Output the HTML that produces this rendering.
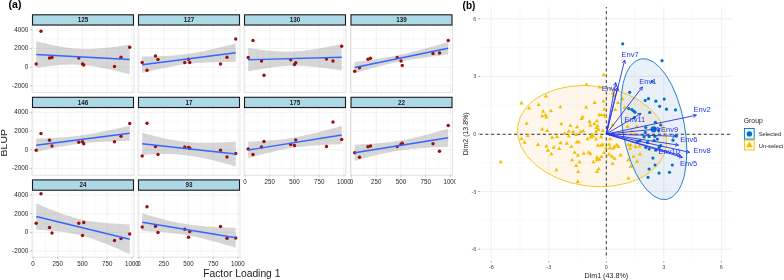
<!DOCTYPE html>
<html><head><meta charset="utf-8"><style>
html,body{margin:0;padding:0;background:#fff;}
svg{display:block;will-change:transform;font-family:"Liberation Sans",sans-serif;}
</style></head><body>
<svg width="784" height="280" viewBox="0 0 784 280">
<rect width="784" height="280" fill="#fff"/>
<defs><clipPath id="ca"><rect x="0" y="0" width="455.6" height="280"/></clipPath></defs>
<g clip-path="url(#ca)">
<rect x="32" y="25.5" width="102" height="66.80" fill="#fff"/>
<line x1="45.40" y1="25.5" x2="45.40" y2="92.3" stroke="#f3f3f3" stroke-width="0.4"/>
<line x1="70.10" y1="25.5" x2="70.10" y2="92.3" stroke="#f3f3f3" stroke-width="0.4"/>
<line x1="94.80" y1="25.5" x2="94.80" y2="92.3" stroke="#f3f3f3" stroke-width="0.4"/>
<line x1="119.50" y1="25.5" x2="119.50" y2="92.3" stroke="#f3f3f3" stroke-width="0.4"/>
<line x1="32" y1="39.15" x2="134" y2="39.15" stroke="#f3f3f3" stroke-width="0.4"/>
<line x1="32" y1="57.85" x2="134" y2="57.85" stroke="#f3f3f3" stroke-width="0.4"/>
<line x1="32" y1="76.55" x2="134" y2="76.55" stroke="#f3f3f3" stroke-width="0.4"/>
<line x1="33.05" y1="25.5" x2="33.05" y2="92.3" stroke="#e9e9e9" stroke-width="0.6"/>
<line x1="57.75" y1="25.5" x2="57.75" y2="92.3" stroke="#e9e9e9" stroke-width="0.6"/>
<line x1="82.45" y1="25.5" x2="82.45" y2="92.3" stroke="#e9e9e9" stroke-width="0.6"/>
<line x1="107.15" y1="25.5" x2="107.15" y2="92.3" stroke="#e9e9e9" stroke-width="0.6"/>
<line x1="131.85" y1="25.5" x2="131.85" y2="92.3" stroke="#e9e9e9" stroke-width="0.6"/>
<line x1="32" y1="29.80" x2="134" y2="29.80" stroke="#e9e9e9" stroke-width="0.6"/>
<line x1="32" y1="48.50" x2="134" y2="48.50" stroke="#e9e9e9" stroke-width="0.6"/>
<line x1="32" y1="67.20" x2="134" y2="67.20" stroke="#e9e9e9" stroke-width="0.6"/>
<line x1="32" y1="85.90" x2="134" y2="85.90" stroke="#e9e9e9" stroke-width="0.6"/>
<polygon points="36.20,41.28 38.60,41.87 40.99,42.46 43.39,43.03 45.79,43.59 48.19,44.13 50.58,44.66 52.98,45.16 55.38,45.65 57.78,46.11 60.17,46.55 62.57,46.96 64.97,47.34 67.37,47.68 69.76,47.99 72.16,48.26 74.56,48.49 76.96,48.67 79.35,48.81 81.75,48.91 84.15,48.97 86.55,48.98 88.94,48.95 91.34,48.89 93.74,48.78 96.14,48.65 98.53,48.49 100.93,48.29 103.33,48.08 105.73,47.84 108.12,47.58 110.52,47.30 112.92,47.01 115.32,46.70 117.71,46.39 120.11,46.05 122.51,45.71 124.91,45.36 127.30,45.00 129.70,44.64 129.70,74.36 127.30,73.74 124.91,73.13 122.51,72.52 120.11,71.92 117.71,71.33 115.32,70.76 112.92,70.19 110.52,69.64 108.12,69.11 105.73,68.60 103.33,68.10 100.93,67.63 98.53,67.18 96.14,66.76 93.74,66.37 91.34,66.01 88.94,65.69 86.55,65.41 84.15,65.16 81.75,64.96 79.35,64.80 76.96,64.69 74.56,64.62 72.16,64.59 69.76,64.60 67.37,64.65 64.97,64.74 62.57,64.86 60.17,65.01 57.78,65.19 55.38,65.40 52.98,65.63 50.58,65.88 48.19,66.15 45.79,66.44 43.39,66.74 40.99,67.06 38.60,67.38 36.20,67.72" fill="#999999" fill-opacity="0.4"/>
<circle cx="36.20" cy="64.00" r="1.7" fill="#9a0f0f"/>
<circle cx="41.00" cy="31.25" r="1.7" fill="#9a0f0f"/>
<circle cx="49.50" cy="58.00" r="1.7" fill="#9a0f0f"/>
<circle cx="52.00" cy="57.50" r="1.7" fill="#9a0f0f"/>
<circle cx="78.75" cy="58.00" r="1.7" fill="#9a0f0f"/>
<circle cx="82.50" cy="64.00" r="1.7" fill="#9a0f0f"/>
<circle cx="83.75" cy="65.00" r="1.7" fill="#9a0f0f"/>
<circle cx="114.50" cy="66.50" r="1.7" fill="#9a0f0f"/>
<circle cx="121.00" cy="57.25" r="1.7" fill="#9a0f0f"/>
<circle cx="129.70" cy="47.25" r="1.7" fill="#9a0f0f"/>
<line x1="36.20" y1="54.5" x2="129.70" y2="59.5" stroke="#3366ff" stroke-width="1.3"/>
<rect x="32" y="25.5" width="102" height="66.80" fill="none" stroke="#d6d6d6" stroke-width="0.7"/>
<rect x="32.5" y="14.8" width="101" height="10.20" fill="#add8e6" stroke="#1a1a1a" stroke-width="1.1"/>
<text x="83.00" y="22.10" font-size="6.3" font-weight="bold" fill="#1a1a1a" text-anchor="middle">125</text>
<line x1="30" y1="29.80" x2="32" y2="29.80" stroke="#999" stroke-width="0.5"/>
<text transform="translate(28.40,31.60) scale(0.91,1)" font-size="7" fill="#1e1e1e" text-anchor="end">4000</text>
<line x1="30" y1="48.50" x2="32" y2="48.50" stroke="#999" stroke-width="0.5"/>
<text transform="translate(28.40,50.30) scale(0.91,1)" font-size="7" fill="#1e1e1e" text-anchor="end">2000</text>
<line x1="30" y1="67.20" x2="32" y2="67.20" stroke="#999" stroke-width="0.5"/>
<text transform="translate(28.40,69.00) scale(0.91,1)" font-size="7" fill="#1e1e1e" text-anchor="end">0</text>
<line x1="30" y1="85.90" x2="32" y2="85.90" stroke="#999" stroke-width="0.5"/>
<text transform="translate(28.40,87.70) scale(0.91,1)" font-size="7" fill="#1e1e1e" text-anchor="end">-2000</text>
<rect x="138" y="25.5" width="102" height="66.80" fill="#fff"/>
<line x1="151.40" y1="25.5" x2="151.40" y2="92.3" stroke="#f3f3f3" stroke-width="0.4"/>
<line x1="176.10" y1="25.5" x2="176.10" y2="92.3" stroke="#f3f3f3" stroke-width="0.4"/>
<line x1="200.80" y1="25.5" x2="200.80" y2="92.3" stroke="#f3f3f3" stroke-width="0.4"/>
<line x1="225.50" y1="25.5" x2="225.50" y2="92.3" stroke="#f3f3f3" stroke-width="0.4"/>
<line x1="138" y1="39.15" x2="240" y2="39.15" stroke="#f3f3f3" stroke-width="0.4"/>
<line x1="138" y1="57.85" x2="240" y2="57.85" stroke="#f3f3f3" stroke-width="0.4"/>
<line x1="138" y1="76.55" x2="240" y2="76.55" stroke="#f3f3f3" stroke-width="0.4"/>
<line x1="139.05" y1="25.5" x2="139.05" y2="92.3" stroke="#e9e9e9" stroke-width="0.6"/>
<line x1="163.75" y1="25.5" x2="163.75" y2="92.3" stroke="#e9e9e9" stroke-width="0.6"/>
<line x1="188.45" y1="25.5" x2="188.45" y2="92.3" stroke="#e9e9e9" stroke-width="0.6"/>
<line x1="213.15" y1="25.5" x2="213.15" y2="92.3" stroke="#e9e9e9" stroke-width="0.6"/>
<line x1="237.85" y1="25.5" x2="237.85" y2="92.3" stroke="#e9e9e9" stroke-width="0.6"/>
<line x1="138" y1="29.80" x2="240" y2="29.80" stroke="#e9e9e9" stroke-width="0.6"/>
<line x1="138" y1="48.50" x2="240" y2="48.50" stroke="#e9e9e9" stroke-width="0.6"/>
<line x1="138" y1="67.20" x2="240" y2="67.20" stroke="#e9e9e9" stroke-width="0.6"/>
<line x1="138" y1="85.90" x2="240" y2="85.90" stroke="#e9e9e9" stroke-width="0.6"/>
<polygon points="142.20,56.50 144.60,56.48 146.99,56.46 149.39,56.43 151.79,56.39 154.19,56.34 156.58,56.28 158.98,56.21 161.38,56.12 163.78,56.03 166.17,55.91 168.57,55.78 170.97,55.63 173.37,55.45 175.76,55.26 178.16,55.04 180.56,54.79 182.96,54.52 185.35,54.22 187.75,53.89 190.15,53.54 192.55,53.16 194.94,52.76 197.34,52.33 199.74,51.88 202.14,51.41 204.53,50.92 206.93,50.41 209.33,49.89 211.73,49.35 214.12,48.80 216.52,48.24 218.92,47.67 221.32,47.09 223.71,46.50 226.11,45.91 228.51,45.31 230.91,44.70 233.30,44.09 235.70,43.47 235.70,62.03 233.30,62.03 230.91,62.03 228.51,62.04 226.11,62.05 223.71,62.07 221.32,62.10 218.92,62.14 216.52,62.18 214.12,62.24 211.73,62.31 209.33,62.38 206.93,62.48 204.53,62.58 202.14,62.71 199.74,62.85 197.34,63.02 194.94,63.21 192.55,63.42 190.15,63.65 187.75,63.91 185.35,64.20 182.96,64.52 180.56,64.86 178.16,65.23 175.76,65.63 173.37,66.05 170.97,66.49 168.57,66.95 166.17,67.44 163.78,67.94 161.38,68.45 158.98,68.98 156.58,69.53 154.19,70.08 151.79,70.65 149.39,71.23 146.99,71.81 144.60,72.40 142.20,73.00" fill="#999999" fill-opacity="0.4"/>
<circle cx="142.20" cy="62.50" r="1.7" fill="#9a0f0f"/>
<circle cx="147.00" cy="70.25" r="1.7" fill="#9a0f0f"/>
<circle cx="155.50" cy="56.00" r="1.7" fill="#9a0f0f"/>
<circle cx="158.00" cy="59.50" r="1.7" fill="#9a0f0f"/>
<circle cx="184.75" cy="62.50" r="1.7" fill="#9a0f0f"/>
<circle cx="188.50" cy="59.25" r="1.7" fill="#9a0f0f"/>
<circle cx="189.75" cy="62.50" r="1.7" fill="#9a0f0f"/>
<circle cx="220.50" cy="64.00" r="1.7" fill="#9a0f0f"/>
<circle cx="227.00" cy="57.25" r="1.7" fill="#9a0f0f"/>
<circle cx="235.70" cy="39.00" r="1.7" fill="#9a0f0f"/>
<line x1="142.20" y1="64.75" x2="235.70" y2="52.75" stroke="#3366ff" stroke-width="1.3"/>
<rect x="138" y="25.5" width="102" height="66.80" fill="none" stroke="#d6d6d6" stroke-width="0.7"/>
<rect x="138.5" y="14.8" width="101" height="10.20" fill="#add8e6" stroke="#1a1a1a" stroke-width="1.1"/>
<text x="189.00" y="22.10" font-size="6.3" font-weight="bold" fill="#1a1a1a" text-anchor="middle">127</text>
<rect x="244" y="25.5" width="102" height="66.80" fill="#fff"/>
<line x1="257.40" y1="25.5" x2="257.40" y2="92.3" stroke="#f3f3f3" stroke-width="0.4"/>
<line x1="282.10" y1="25.5" x2="282.10" y2="92.3" stroke="#f3f3f3" stroke-width="0.4"/>
<line x1="306.80" y1="25.5" x2="306.80" y2="92.3" stroke="#f3f3f3" stroke-width="0.4"/>
<line x1="331.50" y1="25.5" x2="331.50" y2="92.3" stroke="#f3f3f3" stroke-width="0.4"/>
<line x1="244" y1="39.15" x2="346" y2="39.15" stroke="#f3f3f3" stroke-width="0.4"/>
<line x1="244" y1="57.85" x2="346" y2="57.85" stroke="#f3f3f3" stroke-width="0.4"/>
<line x1="244" y1="76.55" x2="346" y2="76.55" stroke="#f3f3f3" stroke-width="0.4"/>
<line x1="245.05" y1="25.5" x2="245.05" y2="92.3" stroke="#e9e9e9" stroke-width="0.6"/>
<line x1="269.75" y1="25.5" x2="269.75" y2="92.3" stroke="#e9e9e9" stroke-width="0.6"/>
<line x1="294.45" y1="25.5" x2="294.45" y2="92.3" stroke="#e9e9e9" stroke-width="0.6"/>
<line x1="319.15" y1="25.5" x2="319.15" y2="92.3" stroke="#e9e9e9" stroke-width="0.6"/>
<line x1="343.85" y1="25.5" x2="343.85" y2="92.3" stroke="#e9e9e9" stroke-width="0.6"/>
<line x1="244" y1="29.80" x2="346" y2="29.80" stroke="#e9e9e9" stroke-width="0.6"/>
<line x1="244" y1="48.50" x2="346" y2="48.50" stroke="#e9e9e9" stroke-width="0.6"/>
<line x1="244" y1="67.20" x2="346" y2="67.20" stroke="#e9e9e9" stroke-width="0.6"/>
<line x1="244" y1="85.90" x2="346" y2="85.90" stroke="#e9e9e9" stroke-width="0.6"/>
<polygon points="248.20,47.98 250.60,48.33 252.99,48.67 255.39,49.00 257.79,49.32 260.19,49.63 262.58,49.92 264.98,50.19 267.38,50.45 269.78,50.68 272.17,50.89 274.57,51.08 276.97,51.24 279.37,51.36 281.76,51.46 284.16,51.52 286.56,51.55 288.96,51.53 291.35,51.48 293.75,51.39 296.15,51.26 298.55,51.09 300.94,50.89 303.34,50.65 305.74,50.39 308.14,50.09 310.53,49.76 312.93,49.41 315.33,49.04 317.73,48.65 320.12,48.24 322.52,47.82 324.92,47.38 327.32,46.93 329.71,46.47 332.11,45.99 334.51,45.51 336.91,45.02 339.30,44.52 341.70,44.02 341.70,70.48 339.30,70.10 336.91,69.73 334.51,69.37 332.11,69.02 329.71,68.67 327.32,68.34 324.92,68.02 322.52,67.71 320.12,67.41 317.73,67.13 315.33,66.87 312.93,66.62 310.53,66.40 308.14,66.21 305.74,66.04 303.34,65.90 300.94,65.79 298.55,65.72 296.15,65.68 293.75,65.68 291.35,65.71 288.96,65.79 286.56,65.90 284.16,66.06 281.76,66.24 279.37,66.47 276.97,66.72 274.57,67.01 272.17,67.33 269.78,67.66 267.38,68.03 264.98,68.41 262.58,68.81 260.19,69.23 257.79,69.66 255.39,70.11 252.99,70.57 250.60,71.04 248.20,71.52" fill="#999999" fill-opacity="0.4"/>
<circle cx="248.20" cy="57.50" r="1.7" fill="#9a0f0f"/>
<circle cx="253.00" cy="40.50" r="1.7" fill="#9a0f0f"/>
<circle cx="261.50" cy="61.00" r="1.7" fill="#9a0f0f"/>
<circle cx="264.00" cy="75.25" r="1.7" fill="#9a0f0f"/>
<circle cx="290.75" cy="59.75" r="1.7" fill="#9a0f0f"/>
<circle cx="294.50" cy="64.50" r="1.7" fill="#9a0f0f"/>
<circle cx="295.75" cy="62.75" r="1.7" fill="#9a0f0f"/>
<circle cx="326.50" cy="59.00" r="1.7" fill="#9a0f0f"/>
<circle cx="333.00" cy="61.00" r="1.7" fill="#9a0f0f"/>
<circle cx="341.70" cy="46.25" r="1.7" fill="#9a0f0f"/>
<line x1="248.20" y1="59.75" x2="341.70" y2="57.25" stroke="#3366ff" stroke-width="1.3"/>
<rect x="244" y="25.5" width="102" height="66.80" fill="none" stroke="#d6d6d6" stroke-width="0.7"/>
<rect x="244.5" y="14.8" width="101" height="10.20" fill="#add8e6" stroke="#1a1a1a" stroke-width="1.1"/>
<text x="295.00" y="22.10" font-size="6.3" font-weight="bold" fill="#1a1a1a" text-anchor="middle">130</text>
<rect x="350.5" y="25.5" width="102" height="66.80" fill="#fff"/>
<line x1="363.90" y1="25.5" x2="363.90" y2="92.3" stroke="#f3f3f3" stroke-width="0.4"/>
<line x1="388.60" y1="25.5" x2="388.60" y2="92.3" stroke="#f3f3f3" stroke-width="0.4"/>
<line x1="413.30" y1="25.5" x2="413.30" y2="92.3" stroke="#f3f3f3" stroke-width="0.4"/>
<line x1="438.00" y1="25.5" x2="438.00" y2="92.3" stroke="#f3f3f3" stroke-width="0.4"/>
<line x1="350.5" y1="39.15" x2="452.5" y2="39.15" stroke="#f3f3f3" stroke-width="0.4"/>
<line x1="350.5" y1="57.85" x2="452.5" y2="57.85" stroke="#f3f3f3" stroke-width="0.4"/>
<line x1="350.5" y1="76.55" x2="452.5" y2="76.55" stroke="#f3f3f3" stroke-width="0.4"/>
<line x1="351.55" y1="25.5" x2="351.55" y2="92.3" stroke="#e9e9e9" stroke-width="0.6"/>
<line x1="376.25" y1="25.5" x2="376.25" y2="92.3" stroke="#e9e9e9" stroke-width="0.6"/>
<line x1="400.95" y1="25.5" x2="400.95" y2="92.3" stroke="#e9e9e9" stroke-width="0.6"/>
<line x1="425.65" y1="25.5" x2="425.65" y2="92.3" stroke="#e9e9e9" stroke-width="0.6"/>
<line x1="450.35" y1="25.5" x2="450.35" y2="92.3" stroke="#e9e9e9" stroke-width="0.6"/>
<line x1="350.5" y1="29.80" x2="452.5" y2="29.80" stroke="#e9e9e9" stroke-width="0.6"/>
<line x1="350.5" y1="48.50" x2="452.5" y2="48.50" stroke="#e9e9e9" stroke-width="0.6"/>
<line x1="350.5" y1="67.20" x2="452.5" y2="67.20" stroke="#e9e9e9" stroke-width="0.6"/>
<line x1="350.5" y1="85.90" x2="452.5" y2="85.90" stroke="#e9e9e9" stroke-width="0.6"/>
<polygon points="354.70,61.92 357.10,61.62 359.49,61.32 361.89,61.02 364.29,60.70 366.69,60.38 369.08,60.06 371.48,59.73 373.88,59.38 376.28,59.03 378.67,58.67 381.07,58.29 383.47,57.91 385.87,57.50 388.26,57.08 390.66,56.65 393.06,56.20 395.46,55.73 397.85,55.24 400.25,54.73 402.65,54.21 405.05,53.67 407.44,53.11 409.84,52.53 412.24,51.94 414.64,51.34 417.03,50.72 419.43,50.09 421.83,49.45 424.23,48.81 426.62,48.15 429.02,47.48 431.42,46.81 433.82,46.14 436.21,45.45 438.61,44.77 441.01,44.07 443.41,43.38 445.80,42.68 448.20,41.98 448.20,54.52 445.80,54.81 443.41,55.10 441.01,55.39 438.61,55.68 436.21,55.98 433.82,56.29 431.42,56.60 429.02,56.91 426.62,57.24 424.23,57.57 421.83,57.90 419.43,58.25 417.03,58.61 414.64,58.98 412.24,59.36 409.84,59.76 407.44,60.17 405.05,60.60 402.65,61.05 400.25,61.51 397.85,61.99 395.46,62.49 393.06,63.01 390.66,63.54 388.26,64.09 385.87,64.66 383.47,65.25 381.07,65.85 378.67,66.46 376.28,67.08 373.88,67.72 371.48,68.36 369.08,69.02 366.69,69.68 364.29,70.35 361.89,71.02 359.49,71.70 357.10,72.39 354.70,73.08" fill="#999999" fill-opacity="0.4"/>
<circle cx="354.70" cy="71.25" r="1.7" fill="#9a0f0f"/>
<circle cx="359.50" cy="67.75" r="1.7" fill="#9a0f0f"/>
<circle cx="368.00" cy="59.25" r="1.7" fill="#9a0f0f"/>
<circle cx="370.50" cy="58.25" r="1.7" fill="#9a0f0f"/>
<circle cx="397.25" cy="57.50" r="1.7" fill="#9a0f0f"/>
<circle cx="401.00" cy="61.00" r="1.7" fill="#9a0f0f"/>
<circle cx="402.25" cy="65.50" r="1.7" fill="#9a0f0f"/>
<circle cx="433.00" cy="53.50" r="1.7" fill="#9a0f0f"/>
<circle cx="439.50" cy="53.00" r="1.7" fill="#9a0f0f"/>
<circle cx="448.20" cy="40.50" r="1.7" fill="#9a0f0f"/>
<line x1="354.70" y1="67.5" x2="448.20" y2="48.25" stroke="#3366ff" stroke-width="1.3"/>
<rect x="350.5" y="25.5" width="102" height="66.80" fill="none" stroke="#d6d6d6" stroke-width="0.7"/>
<rect x="351.0" y="14.8" width="101" height="10.20" fill="#add8e6" stroke="#1a1a1a" stroke-width="1.1"/>
<text x="401.50" y="22.10" font-size="6.3" font-weight="bold" fill="#1a1a1a" text-anchor="middle">139</text>
<rect x="32" y="108.0" width="102" height="67.20" fill="#fff"/>
<line x1="45.40" y1="108.0" x2="45.40" y2="175.2" stroke="#f3f3f3" stroke-width="0.4"/>
<line x1="70.10" y1="108.0" x2="70.10" y2="175.2" stroke="#f3f3f3" stroke-width="0.4"/>
<line x1="94.80" y1="108.0" x2="94.80" y2="175.2" stroke="#f3f3f3" stroke-width="0.4"/>
<line x1="119.50" y1="108.0" x2="119.50" y2="175.2" stroke="#f3f3f3" stroke-width="0.4"/>
<line x1="32" y1="121.65" x2="134" y2="121.65" stroke="#f3f3f3" stroke-width="0.4"/>
<line x1="32" y1="140.35" x2="134" y2="140.35" stroke="#f3f3f3" stroke-width="0.4"/>
<line x1="32" y1="159.05" x2="134" y2="159.05" stroke="#f3f3f3" stroke-width="0.4"/>
<line x1="33.05" y1="108.0" x2="33.05" y2="175.2" stroke="#e9e9e9" stroke-width="0.6"/>
<line x1="57.75" y1="108.0" x2="57.75" y2="175.2" stroke="#e9e9e9" stroke-width="0.6"/>
<line x1="82.45" y1="108.0" x2="82.45" y2="175.2" stroke="#e9e9e9" stroke-width="0.6"/>
<line x1="107.15" y1="108.0" x2="107.15" y2="175.2" stroke="#e9e9e9" stroke-width="0.6"/>
<line x1="131.85" y1="108.0" x2="131.85" y2="175.2" stroke="#e9e9e9" stroke-width="0.6"/>
<line x1="32" y1="112.30" x2="134" y2="112.30" stroke="#e9e9e9" stroke-width="0.6"/>
<line x1="32" y1="131.00" x2="134" y2="131.00" stroke="#e9e9e9" stroke-width="0.6"/>
<line x1="32" y1="149.70" x2="134" y2="149.70" stroke="#e9e9e9" stroke-width="0.6"/>
<line x1="32" y1="168.40" x2="134" y2="168.40" stroke="#e9e9e9" stroke-width="0.6"/>
<polygon points="36.20,138.53 38.60,138.46 40.99,138.38 43.39,138.30 45.79,138.21 48.19,138.12 50.58,138.01 52.98,137.90 55.38,137.77 57.78,137.63 60.17,137.48 62.57,137.32 64.97,137.14 67.37,136.94 69.76,136.72 72.16,136.49 74.56,136.23 76.96,135.95 79.35,135.65 81.75,135.33 84.15,134.98 86.55,134.61 88.94,134.23 91.34,133.82 93.74,133.40 96.14,132.96 98.53,132.50 100.93,132.03 103.33,131.55 105.73,131.05 108.12,130.55 110.52,130.03 112.92,129.51 115.32,128.98 117.71,128.45 120.11,127.91 122.51,127.36 124.91,126.81 127.30,126.25 129.70,125.70 129.70,140.80 127.30,140.86 124.91,140.92 122.51,140.98 120.11,141.05 117.71,141.13 115.32,141.21 112.92,141.29 110.52,141.39 108.12,141.49 105.73,141.60 103.33,141.72 100.93,141.86 98.53,142.00 96.14,142.16 93.74,142.33 91.34,142.53 88.94,142.73 86.55,142.96 84.15,143.21 81.75,143.48 79.35,143.77 76.96,144.09 74.56,144.43 72.16,144.78 69.76,145.16 67.37,145.56 64.97,145.98 62.57,146.41 60.17,146.86 57.78,147.33 55.38,147.81 52.98,148.30 50.58,148.80 48.19,149.31 45.79,149.83 43.39,150.35 40.99,150.89 38.60,151.42 36.20,151.97" fill="#999999" fill-opacity="0.4"/>
<circle cx="36.20" cy="150.25" r="1.7" fill="#9a0f0f"/>
<circle cx="41.00" cy="133.50" r="1.7" fill="#9a0f0f"/>
<circle cx="49.50" cy="140.25" r="1.7" fill="#9a0f0f"/>
<circle cx="52.00" cy="146.00" r="1.7" fill="#9a0f0f"/>
<circle cx="78.75" cy="142.25" r="1.7" fill="#9a0f0f"/>
<circle cx="82.50" cy="141.75" r="1.7" fill="#9a0f0f"/>
<circle cx="83.75" cy="143.75" r="1.7" fill="#9a0f0f"/>
<circle cx="114.50" cy="141.75" r="1.7" fill="#9a0f0f"/>
<circle cx="121.00" cy="136.25" r="1.7" fill="#9a0f0f"/>
<circle cx="129.70" cy="123.50" r="1.7" fill="#9a0f0f"/>
<line x1="36.20" y1="145.25" x2="129.70" y2="133.25" stroke="#3366ff" stroke-width="1.3"/>
<rect x="32" y="108.0" width="102" height="67.20" fill="none" stroke="#d6d6d6" stroke-width="0.7"/>
<rect x="32.5" y="97.3" width="101" height="10.20" fill="#add8e6" stroke="#1a1a1a" stroke-width="1.1"/>
<text x="83.00" y="104.60" font-size="6.3" font-weight="bold" fill="#1a1a1a" text-anchor="middle">146</text>
<line x1="30" y1="112.30" x2="32" y2="112.30" stroke="#999" stroke-width="0.5"/>
<text transform="translate(28.40,114.10) scale(0.91,1)" font-size="7" fill="#1e1e1e" text-anchor="end">4000</text>
<line x1="30" y1="131.00" x2="32" y2="131.00" stroke="#999" stroke-width="0.5"/>
<text transform="translate(28.40,132.80) scale(0.91,1)" font-size="7" fill="#1e1e1e" text-anchor="end">2000</text>
<line x1="30" y1="149.70" x2="32" y2="149.70" stroke="#999" stroke-width="0.5"/>
<text transform="translate(28.40,151.50) scale(0.91,1)" font-size="7" fill="#1e1e1e" text-anchor="end">0</text>
<line x1="30" y1="168.40" x2="32" y2="168.40" stroke="#999" stroke-width="0.5"/>
<text transform="translate(28.40,170.20) scale(0.91,1)" font-size="7" fill="#1e1e1e" text-anchor="end">-2000</text>
<rect x="138" y="108.0" width="102" height="67.20" fill="#fff"/>
<line x1="151.40" y1="108.0" x2="151.40" y2="175.2" stroke="#f3f3f3" stroke-width="0.4"/>
<line x1="176.10" y1="108.0" x2="176.10" y2="175.2" stroke="#f3f3f3" stroke-width="0.4"/>
<line x1="200.80" y1="108.0" x2="200.80" y2="175.2" stroke="#f3f3f3" stroke-width="0.4"/>
<line x1="225.50" y1="108.0" x2="225.50" y2="175.2" stroke="#f3f3f3" stroke-width="0.4"/>
<line x1="138" y1="121.65" x2="240" y2="121.65" stroke="#f3f3f3" stroke-width="0.4"/>
<line x1="138" y1="140.35" x2="240" y2="140.35" stroke="#f3f3f3" stroke-width="0.4"/>
<line x1="138" y1="159.05" x2="240" y2="159.05" stroke="#f3f3f3" stroke-width="0.4"/>
<line x1="139.05" y1="108.0" x2="139.05" y2="175.2" stroke="#e9e9e9" stroke-width="0.6"/>
<line x1="163.75" y1="108.0" x2="163.75" y2="175.2" stroke="#e9e9e9" stroke-width="0.6"/>
<line x1="188.45" y1="108.0" x2="188.45" y2="175.2" stroke="#e9e9e9" stroke-width="0.6"/>
<line x1="213.15" y1="108.0" x2="213.15" y2="175.2" stroke="#e9e9e9" stroke-width="0.6"/>
<line x1="237.85" y1="108.0" x2="237.85" y2="175.2" stroke="#e9e9e9" stroke-width="0.6"/>
<line x1="138" y1="112.30" x2="240" y2="112.30" stroke="#e9e9e9" stroke-width="0.6"/>
<line x1="138" y1="131.00" x2="240" y2="131.00" stroke="#e9e9e9" stroke-width="0.6"/>
<line x1="138" y1="149.70" x2="240" y2="149.70" stroke="#e9e9e9" stroke-width="0.6"/>
<line x1="138" y1="168.40" x2="240" y2="168.40" stroke="#e9e9e9" stroke-width="0.6"/>
<polygon points="142.20,132.74 144.60,133.39 146.99,134.03 149.39,134.67 151.79,135.29 154.19,135.89 156.58,136.49 158.98,137.07 161.38,137.63 163.78,138.17 166.17,138.69 168.57,139.19 170.97,139.66 173.37,140.10 175.76,140.51 178.16,140.89 180.56,141.24 182.96,141.55 185.35,141.82 187.75,142.06 190.15,142.26 192.55,142.43 194.94,142.56 197.34,142.66 199.74,142.74 202.14,142.78 204.53,142.80 206.93,142.80 209.33,142.77 211.73,142.73 214.12,142.67 216.52,142.60 218.92,142.51 221.32,142.41 223.71,142.30 226.11,142.18 228.51,142.05 230.91,141.91 233.30,141.77 235.70,141.62 235.70,166.38 233.30,165.70 230.91,165.03 228.51,164.37 226.11,163.72 223.71,163.07 221.32,162.44 218.92,161.81 216.52,161.20 214.12,160.60 211.73,160.01 209.33,159.45 206.93,158.90 204.53,158.37 202.14,157.86 199.74,157.38 197.34,156.93 194.94,156.50 192.55,156.11 190.15,155.75 187.75,155.43 185.35,155.14 182.96,154.89 180.56,154.67 178.16,154.49 175.76,154.35 173.37,154.23 170.97,154.15 168.57,154.09 166.17,154.07 163.78,154.06 161.38,154.08 158.98,154.11 156.58,154.16 154.19,154.23 151.79,154.32 149.39,154.41 146.99,154.52 144.60,154.63 142.20,154.76" fill="#999999" fill-opacity="0.4"/>
<circle cx="142.20" cy="156.00" r="1.7" fill="#9a0f0f"/>
<circle cx="147.00" cy="123.25" r="1.7" fill="#9a0f0f"/>
<circle cx="155.50" cy="146.50" r="1.7" fill="#9a0f0f"/>
<circle cx="158.00" cy="154.50" r="1.7" fill="#9a0f0f"/>
<circle cx="184.75" cy="147.00" r="1.7" fill="#9a0f0f"/>
<circle cx="188.50" cy="147.50" r="1.7" fill="#9a0f0f"/>
<circle cx="189.75" cy="148.25" r="1.7" fill="#9a0f0f"/>
<circle cx="220.50" cy="150.25" r="1.7" fill="#9a0f0f"/>
<circle cx="227.00" cy="157.00" r="1.7" fill="#9a0f0f"/>
<circle cx="235.70" cy="153.50" r="1.7" fill="#9a0f0f"/>
<line x1="142.20" y1="143.75" x2="235.70" y2="154" stroke="#3366ff" stroke-width="1.3"/>
<rect x="138" y="108.0" width="102" height="67.20" fill="none" stroke="#d6d6d6" stroke-width="0.7"/>
<rect x="138.5" y="97.3" width="101" height="10.20" fill="#add8e6" stroke="#1a1a1a" stroke-width="1.1"/>
<text x="189.00" y="104.60" font-size="6.3" font-weight="bold" fill="#1a1a1a" text-anchor="middle">17</text>
<rect x="244" y="108.0" width="102" height="67.20" fill="#fff"/>
<line x1="257.40" y1="108.0" x2="257.40" y2="175.2" stroke="#f3f3f3" stroke-width="0.4"/>
<line x1="282.10" y1="108.0" x2="282.10" y2="175.2" stroke="#f3f3f3" stroke-width="0.4"/>
<line x1="306.80" y1="108.0" x2="306.80" y2="175.2" stroke="#f3f3f3" stroke-width="0.4"/>
<line x1="331.50" y1="108.0" x2="331.50" y2="175.2" stroke="#f3f3f3" stroke-width="0.4"/>
<line x1="244" y1="121.65" x2="346" y2="121.65" stroke="#f3f3f3" stroke-width="0.4"/>
<line x1="244" y1="140.35" x2="346" y2="140.35" stroke="#f3f3f3" stroke-width="0.4"/>
<line x1="244" y1="159.05" x2="346" y2="159.05" stroke="#f3f3f3" stroke-width="0.4"/>
<line x1="245.05" y1="108.0" x2="245.05" y2="175.2" stroke="#e9e9e9" stroke-width="0.6"/>
<line x1="269.75" y1="108.0" x2="269.75" y2="175.2" stroke="#e9e9e9" stroke-width="0.6"/>
<line x1="294.45" y1="108.0" x2="294.45" y2="175.2" stroke="#e9e9e9" stroke-width="0.6"/>
<line x1="319.15" y1="108.0" x2="319.15" y2="175.2" stroke="#e9e9e9" stroke-width="0.6"/>
<line x1="343.85" y1="108.0" x2="343.85" y2="175.2" stroke="#e9e9e9" stroke-width="0.6"/>
<line x1="244" y1="112.30" x2="346" y2="112.30" stroke="#e9e9e9" stroke-width="0.6"/>
<line x1="244" y1="131.00" x2="346" y2="131.00" stroke="#e9e9e9" stroke-width="0.6"/>
<line x1="244" y1="149.70" x2="346" y2="149.70" stroke="#e9e9e9" stroke-width="0.6"/>
<line x1="244" y1="168.40" x2="346" y2="168.40" stroke="#e9e9e9" stroke-width="0.6"/>
<polygon points="248.20,141.77 250.60,141.68 252.99,141.57 255.39,141.47 257.79,141.35 260.19,141.22 262.58,141.09 264.98,140.94 267.38,140.78 269.78,140.60 272.17,140.41 274.57,140.20 276.97,139.97 279.37,139.72 281.76,139.45 284.16,139.15 286.56,138.83 288.96,138.48 291.35,138.10 293.75,137.70 296.15,137.27 298.55,136.81 300.94,136.33 303.34,135.82 305.74,135.30 308.14,134.75 310.53,134.18 312.93,133.60 315.33,133.00 317.73,132.39 320.12,131.76 322.52,131.12 324.92,130.48 327.32,129.82 329.71,129.16 332.11,128.49 334.51,127.81 336.91,127.13 339.30,126.44 341.70,125.75 341.70,144.25 339.30,144.33 336.91,144.41 334.51,144.50 332.11,144.59 329.71,144.69 327.32,144.79 324.92,144.91 322.52,145.03 320.12,145.16 317.73,145.31 315.33,145.46 312.93,145.63 310.53,145.82 308.14,146.02 305.74,146.24 303.34,146.49 300.94,146.75 298.55,147.04 296.15,147.35 293.75,147.69 291.35,148.05 288.96,148.45 286.56,148.87 284.16,149.31 281.76,149.79 279.37,150.28 276.97,150.80 274.57,151.34 272.17,151.90 269.78,152.48 267.38,153.07 264.98,153.68 262.58,154.30 260.19,154.93 257.79,155.57 255.39,156.23 252.99,156.89 250.60,157.56 248.20,158.23" fill="#999999" fill-opacity="0.4"/>
<circle cx="248.20" cy="149.00" r="1.7" fill="#9a0f0f"/>
<circle cx="253.00" cy="154.50" r="1.7" fill="#9a0f0f"/>
<circle cx="261.50" cy="147.00" r="1.7" fill="#9a0f0f"/>
<circle cx="264.00" cy="141.50" r="1.7" fill="#9a0f0f"/>
<circle cx="290.75" cy="144.50" r="1.7" fill="#9a0f0f"/>
<circle cx="294.50" cy="145.50" r="1.7" fill="#9a0f0f"/>
<circle cx="295.75" cy="140.00" r="1.7" fill="#9a0f0f"/>
<circle cx="326.50" cy="146.50" r="1.7" fill="#9a0f0f"/>
<circle cx="333.00" cy="122.00" r="1.7" fill="#9a0f0f"/>
<circle cx="341.70" cy="139.50" r="1.7" fill="#9a0f0f"/>
<line x1="248.20" y1="150" x2="341.70" y2="135" stroke="#3366ff" stroke-width="1.3"/>
<rect x="244" y="108.0" width="102" height="67.20" fill="none" stroke="#d6d6d6" stroke-width="0.7"/>
<rect x="244.5" y="97.3" width="101" height="10.20" fill="#add8e6" stroke="#1a1a1a" stroke-width="1.1"/>
<text x="295.00" y="104.60" font-size="6.3" font-weight="bold" fill="#1a1a1a" text-anchor="middle">175</text>
<line x1="245.05" y1="175.2" x2="245.05" y2="177.2" stroke="#999" stroke-width="0.5"/>
<text transform="translate(245.05,184.20) scale(0.89,1)" font-size="7" fill="#1e1e1e" text-anchor="middle">0</text>
<line x1="269.75" y1="175.2" x2="269.75" y2="177.2" stroke="#999" stroke-width="0.5"/>
<text transform="translate(269.75,184.20) scale(0.89,1)" font-size="7" fill="#1e1e1e" text-anchor="middle">250</text>
<line x1="294.45" y1="175.2" x2="294.45" y2="177.2" stroke="#999" stroke-width="0.5"/>
<text transform="translate(294.45,184.20) scale(0.89,1)" font-size="7" fill="#1e1e1e" text-anchor="middle">500</text>
<line x1="319.15" y1="175.2" x2="319.15" y2="177.2" stroke="#999" stroke-width="0.5"/>
<text transform="translate(319.15,184.20) scale(0.89,1)" font-size="7" fill="#1e1e1e" text-anchor="middle">750</text>
<line x1="343.85" y1="175.2" x2="343.85" y2="177.2" stroke="#999" stroke-width="0.5"/>
<text transform="translate(343.85,184.20) scale(0.89,1)" font-size="7" fill="#1e1e1e" text-anchor="middle">1000</text>
<rect x="350.5" y="108.0" width="102" height="67.20" fill="#fff"/>
<line x1="363.90" y1="108.0" x2="363.90" y2="175.2" stroke="#f3f3f3" stroke-width="0.4"/>
<line x1="388.60" y1="108.0" x2="388.60" y2="175.2" stroke="#f3f3f3" stroke-width="0.4"/>
<line x1="413.30" y1="108.0" x2="413.30" y2="175.2" stroke="#f3f3f3" stroke-width="0.4"/>
<line x1="438.00" y1="108.0" x2="438.00" y2="175.2" stroke="#f3f3f3" stroke-width="0.4"/>
<line x1="350.5" y1="121.65" x2="452.5" y2="121.65" stroke="#f3f3f3" stroke-width="0.4"/>
<line x1="350.5" y1="140.35" x2="452.5" y2="140.35" stroke="#f3f3f3" stroke-width="0.4"/>
<line x1="350.5" y1="159.05" x2="452.5" y2="159.05" stroke="#f3f3f3" stroke-width="0.4"/>
<line x1="351.55" y1="108.0" x2="351.55" y2="175.2" stroke="#e9e9e9" stroke-width="0.6"/>
<line x1="376.25" y1="108.0" x2="376.25" y2="175.2" stroke="#e9e9e9" stroke-width="0.6"/>
<line x1="400.95" y1="108.0" x2="400.95" y2="175.2" stroke="#e9e9e9" stroke-width="0.6"/>
<line x1="425.65" y1="108.0" x2="425.65" y2="175.2" stroke="#e9e9e9" stroke-width="0.6"/>
<line x1="450.35" y1="108.0" x2="450.35" y2="175.2" stroke="#e9e9e9" stroke-width="0.6"/>
<line x1="350.5" y1="112.30" x2="452.5" y2="112.30" stroke="#e9e9e9" stroke-width="0.6"/>
<line x1="350.5" y1="131.00" x2="452.5" y2="131.00" stroke="#e9e9e9" stroke-width="0.6"/>
<line x1="350.5" y1="149.70" x2="452.5" y2="149.70" stroke="#e9e9e9" stroke-width="0.6"/>
<line x1="350.5" y1="168.40" x2="452.5" y2="168.40" stroke="#e9e9e9" stroke-width="0.6"/>
<polygon points="354.70,144.70 357.10,144.60 359.49,144.49 361.89,144.37 364.29,144.25 366.69,144.12 369.08,143.98 371.48,143.82 373.88,143.66 376.28,143.48 378.67,143.28 381.07,143.07 383.47,142.84 385.87,142.58 388.26,142.31 390.66,142.01 393.06,141.68 395.46,141.33 397.85,140.96 400.25,140.55 402.65,140.13 405.05,139.67 407.44,139.19 409.84,138.69 412.24,138.16 414.64,137.62 417.03,137.06 419.43,136.48 421.83,135.88 424.23,135.27 426.62,134.65 429.02,134.02 431.42,133.38 433.82,132.73 436.21,132.08 438.61,131.41 441.01,130.74 443.41,130.06 445.80,129.38 448.20,128.70 448.20,146.80 445.80,146.89 443.41,146.97 441.01,147.07 438.61,147.17 436.21,147.27 433.82,147.38 431.42,147.50 429.02,147.63 426.62,147.77 424.23,147.92 421.83,148.08 419.43,148.25 417.03,148.44 414.64,148.65 412.24,148.87 409.84,149.12 407.44,149.39 405.05,149.68 402.65,149.99 400.25,150.33 397.85,150.70 395.46,151.09 393.06,151.51 390.66,151.95 388.26,152.42 385.87,152.92 383.47,153.43 381.07,153.97 378.67,154.53 376.28,155.10 373.88,155.69 371.48,156.29 369.08,156.91 366.69,157.53 364.29,158.17 361.89,158.82 359.49,159.47 357.10,160.13 354.70,160.80" fill="#999999" fill-opacity="0.4"/>
<circle cx="354.70" cy="152.75" r="1.7" fill="#9a0f0f"/>
<circle cx="359.50" cy="157.25" r="1.7" fill="#9a0f0f"/>
<circle cx="368.00" cy="146.75" r="1.7" fill="#9a0f0f"/>
<circle cx="370.50" cy="146.00" r="1.7" fill="#9a0f0f"/>
<circle cx="397.25" cy="146.50" r="1.7" fill="#9a0f0f"/>
<circle cx="401.00" cy="144.25" r="1.7" fill="#9a0f0f"/>
<circle cx="402.25" cy="143.25" r="1.7" fill="#9a0f0f"/>
<circle cx="433.00" cy="143.75" r="1.7" fill="#9a0f0f"/>
<circle cx="439.50" cy="151.25" r="1.7" fill="#9a0f0f"/>
<circle cx="448.20" cy="125.50" r="1.7" fill="#9a0f0f"/>
<line x1="354.70" y1="152.75" x2="448.20" y2="137.75" stroke="#3366ff" stroke-width="1.3"/>
<rect x="350.5" y="108.0" width="102" height="67.20" fill="none" stroke="#d6d6d6" stroke-width="0.7"/>
<rect x="351.0" y="97.3" width="101" height="10.20" fill="#add8e6" stroke="#1a1a1a" stroke-width="1.1"/>
<text x="401.50" y="104.60" font-size="6.3" font-weight="bold" fill="#1a1a1a" text-anchor="middle">22</text>
<line x1="351.55" y1="175.2" x2="351.55" y2="177.2" stroke="#999" stroke-width="0.5"/>
<text transform="translate(351.55,184.20) scale(0.89,1)" font-size="7" fill="#1e1e1e" text-anchor="middle">0</text>
<line x1="376.25" y1="175.2" x2="376.25" y2="177.2" stroke="#999" stroke-width="0.5"/>
<text transform="translate(376.25,184.20) scale(0.89,1)" font-size="7" fill="#1e1e1e" text-anchor="middle">250</text>
<line x1="400.95" y1="175.2" x2="400.95" y2="177.2" stroke="#999" stroke-width="0.5"/>
<text transform="translate(400.95,184.20) scale(0.89,1)" font-size="7" fill="#1e1e1e" text-anchor="middle">500</text>
<line x1="425.65" y1="175.2" x2="425.65" y2="177.2" stroke="#999" stroke-width="0.5"/>
<text transform="translate(425.65,184.20) scale(0.89,1)" font-size="7" fill="#1e1e1e" text-anchor="middle">750</text>
<line x1="450.35" y1="175.2" x2="450.35" y2="177.2" stroke="#999" stroke-width="0.5"/>
<text transform="translate(450.35,184.20) scale(0.89,1)" font-size="7" fill="#1e1e1e" text-anchor="middle">1000</text>
<rect x="32" y="190.7" width="102" height="66.40" fill="#fff"/>
<line x1="45.40" y1="190.7" x2="45.40" y2="257.1" stroke="#f3f3f3" stroke-width="0.4"/>
<line x1="70.10" y1="190.7" x2="70.10" y2="257.1" stroke="#f3f3f3" stroke-width="0.4"/>
<line x1="94.80" y1="190.7" x2="94.80" y2="257.1" stroke="#f3f3f3" stroke-width="0.4"/>
<line x1="119.50" y1="190.7" x2="119.50" y2="257.1" stroke="#f3f3f3" stroke-width="0.4"/>
<line x1="32" y1="204.35" x2="134" y2="204.35" stroke="#f3f3f3" stroke-width="0.4"/>
<line x1="32" y1="223.05" x2="134" y2="223.05" stroke="#f3f3f3" stroke-width="0.4"/>
<line x1="32" y1="241.75" x2="134" y2="241.75" stroke="#f3f3f3" stroke-width="0.4"/>
<line x1="33.05" y1="190.7" x2="33.05" y2="257.1" stroke="#e9e9e9" stroke-width="0.6"/>
<line x1="57.75" y1="190.7" x2="57.75" y2="257.1" stroke="#e9e9e9" stroke-width="0.6"/>
<line x1="82.45" y1="190.7" x2="82.45" y2="257.1" stroke="#e9e9e9" stroke-width="0.6"/>
<line x1="107.15" y1="190.7" x2="107.15" y2="257.1" stroke="#e9e9e9" stroke-width="0.6"/>
<line x1="131.85" y1="190.7" x2="131.85" y2="257.1" stroke="#e9e9e9" stroke-width="0.6"/>
<line x1="32" y1="195.00" x2="134" y2="195.00" stroke="#e9e9e9" stroke-width="0.6"/>
<line x1="32" y1="213.70" x2="134" y2="213.70" stroke="#e9e9e9" stroke-width="0.6"/>
<line x1="32" y1="232.40" x2="134" y2="232.40" stroke="#e9e9e9" stroke-width="0.6"/>
<line x1="32" y1="251.10" x2="134" y2="251.10" stroke="#e9e9e9" stroke-width="0.6"/>
<polygon points="36.20,203.28 38.60,204.33 40.99,205.37 43.39,206.39 45.79,207.41 48.19,208.41 50.58,209.39 52.98,210.35 55.38,211.29 57.78,212.21 60.17,213.10 62.57,213.97 64.97,214.80 67.37,215.60 69.76,216.36 72.16,217.09 74.56,217.77 76.96,218.41 79.35,219.01 81.75,219.56 84.15,220.07 86.55,220.54 88.94,220.96 91.34,221.35 93.74,221.71 96.14,222.03 98.53,222.32 100.93,222.58 103.33,222.82 105.73,223.04 108.12,223.23 110.52,223.41 112.92,223.58 115.32,223.72 117.71,223.86 120.11,223.98 122.51,224.10 124.91,224.20 127.30,224.30 129.70,224.39 129.70,254.11 127.30,253.04 124.91,251.97 122.51,250.90 120.11,249.85 117.71,248.81 115.32,247.78 112.92,246.76 110.52,245.75 108.12,244.77 105.73,243.80 103.33,242.85 100.93,241.92 98.53,241.01 96.14,240.14 93.74,239.29 91.34,238.48 88.94,237.70 86.55,236.96 84.15,236.27 81.75,235.61 79.35,234.99 76.96,234.42 74.56,233.90 72.16,233.41 69.76,232.97 67.37,232.57 64.97,232.20 62.57,231.87 60.17,231.56 57.78,231.29 55.38,231.04 52.98,230.82 50.58,230.61 48.19,230.43 45.79,230.26 43.39,230.11 40.99,229.97 38.60,229.84 36.20,229.72" fill="#999999" fill-opacity="0.4"/>
<circle cx="36.20" cy="223.25" r="1.7" fill="#9a0f0f"/>
<circle cx="41.00" cy="193.75" r="1.7" fill="#9a0f0f"/>
<circle cx="49.50" cy="227.50" r="1.7" fill="#9a0f0f"/>
<circle cx="52.00" cy="233.00" r="1.7" fill="#9a0f0f"/>
<circle cx="78.75" cy="223.25" r="1.7" fill="#9a0f0f"/>
<circle cx="82.50" cy="235.50" r="1.7" fill="#9a0f0f"/>
<circle cx="83.75" cy="222.50" r="1.7" fill="#9a0f0f"/>
<circle cx="114.50" cy="240.50" r="1.7" fill="#9a0f0f"/>
<circle cx="121.00" cy="238.50" r="1.7" fill="#9a0f0f"/>
<circle cx="129.70" cy="234.00" r="1.7" fill="#9a0f0f"/>
<line x1="36.20" y1="216.5" x2="129.70" y2="239.25" stroke="#3366ff" stroke-width="1.3"/>
<rect x="32" y="190.7" width="102" height="66.40" fill="none" stroke="#d6d6d6" stroke-width="0.7"/>
<rect x="32.5" y="179.9" width="101" height="10.30" fill="#add8e6" stroke="#1a1a1a" stroke-width="1.1"/>
<text x="83.00" y="187.25" font-size="6.3" font-weight="bold" fill="#1a1a1a" text-anchor="middle">24</text>
<line x1="30" y1="195.00" x2="32" y2="195.00" stroke="#999" stroke-width="0.5"/>
<text transform="translate(28.40,196.80) scale(0.91,1)" font-size="7" fill="#1e1e1e" text-anchor="end">4000</text>
<line x1="30" y1="213.70" x2="32" y2="213.70" stroke="#999" stroke-width="0.5"/>
<text transform="translate(28.40,215.50) scale(0.91,1)" font-size="7" fill="#1e1e1e" text-anchor="end">2000</text>
<line x1="30" y1="232.40" x2="32" y2="232.40" stroke="#999" stroke-width="0.5"/>
<text transform="translate(28.40,234.20) scale(0.91,1)" font-size="7" fill="#1e1e1e" text-anchor="end">0</text>
<line x1="30" y1="251.10" x2="32" y2="251.10" stroke="#999" stroke-width="0.5"/>
<text transform="translate(28.40,252.90) scale(0.91,1)" font-size="7" fill="#1e1e1e" text-anchor="end">-2000</text>
<line x1="33.05" y1="257.1" x2="33.05" y2="259.1" stroke="#999" stroke-width="0.5"/>
<text transform="translate(33.05,266.10) scale(0.89,1)" font-size="7" fill="#1e1e1e" text-anchor="middle">0</text>
<line x1="57.75" y1="257.1" x2="57.75" y2="259.1" stroke="#999" stroke-width="0.5"/>
<text transform="translate(57.75,266.10) scale(0.89,1)" font-size="7" fill="#1e1e1e" text-anchor="middle">250</text>
<line x1="82.45" y1="257.1" x2="82.45" y2="259.1" stroke="#999" stroke-width="0.5"/>
<text transform="translate(82.45,266.10) scale(0.89,1)" font-size="7" fill="#1e1e1e" text-anchor="middle">500</text>
<line x1="107.15" y1="257.1" x2="107.15" y2="259.1" stroke="#999" stroke-width="0.5"/>
<text transform="translate(107.15,266.10) scale(0.89,1)" font-size="7" fill="#1e1e1e" text-anchor="middle">750</text>
<line x1="131.85" y1="257.1" x2="131.85" y2="259.1" stroke="#999" stroke-width="0.5"/>
<text transform="translate(131.85,266.10) scale(0.89,1)" font-size="7" fill="#1e1e1e" text-anchor="middle">1000</text>
<rect x="138" y="190.7" width="102" height="66.40" fill="#fff"/>
<line x1="151.40" y1="190.7" x2="151.40" y2="257.1" stroke="#f3f3f3" stroke-width="0.4"/>
<line x1="176.10" y1="190.7" x2="176.10" y2="257.1" stroke="#f3f3f3" stroke-width="0.4"/>
<line x1="200.80" y1="190.7" x2="200.80" y2="257.1" stroke="#f3f3f3" stroke-width="0.4"/>
<line x1="225.50" y1="190.7" x2="225.50" y2="257.1" stroke="#f3f3f3" stroke-width="0.4"/>
<line x1="138" y1="204.35" x2="240" y2="204.35" stroke="#f3f3f3" stroke-width="0.4"/>
<line x1="138" y1="223.05" x2="240" y2="223.05" stroke="#f3f3f3" stroke-width="0.4"/>
<line x1="138" y1="241.75" x2="240" y2="241.75" stroke="#f3f3f3" stroke-width="0.4"/>
<line x1="139.05" y1="190.7" x2="139.05" y2="257.1" stroke="#e9e9e9" stroke-width="0.6"/>
<line x1="163.75" y1="190.7" x2="163.75" y2="257.1" stroke="#e9e9e9" stroke-width="0.6"/>
<line x1="188.45" y1="190.7" x2="188.45" y2="257.1" stroke="#e9e9e9" stroke-width="0.6"/>
<line x1="213.15" y1="190.7" x2="213.15" y2="257.1" stroke="#e9e9e9" stroke-width="0.6"/>
<line x1="237.85" y1="190.7" x2="237.85" y2="257.1" stroke="#e9e9e9" stroke-width="0.6"/>
<line x1="138" y1="195.00" x2="240" y2="195.00" stroke="#e9e9e9" stroke-width="0.6"/>
<line x1="138" y1="213.70" x2="240" y2="213.70" stroke="#e9e9e9" stroke-width="0.6"/>
<line x1="138" y1="232.40" x2="240" y2="232.40" stroke="#e9e9e9" stroke-width="0.6"/>
<line x1="138" y1="251.10" x2="240" y2="251.10" stroke="#e9e9e9" stroke-width="0.6"/>
<polygon points="142.20,213.32 144.60,214.03 146.99,214.73 149.39,215.43 151.79,216.12 154.19,216.80 156.58,217.46 158.98,218.12 161.38,218.76 163.78,219.38 166.17,219.99 168.57,220.57 170.97,221.14 173.37,221.68 175.76,222.20 178.16,222.69 180.56,223.16 182.96,223.60 185.35,224.00 187.75,224.38 190.15,224.73 192.55,225.05 194.94,225.34 197.34,225.60 199.74,225.85 202.14,226.07 204.53,226.27 206.93,226.45 209.33,226.61 211.73,226.76 214.12,226.90 216.52,227.02 218.92,227.14 221.32,227.24 223.71,227.33 226.11,227.42 228.51,227.50 230.91,227.57 233.30,227.64 235.70,227.71 235.70,247.79 233.30,247.06 230.91,246.34 228.51,245.61 226.11,244.90 223.71,244.19 221.32,243.49 218.92,242.80 216.52,242.12 214.12,241.45 211.73,240.79 209.33,240.14 206.93,239.51 204.53,238.90 202.14,238.30 199.74,237.73 197.34,237.18 194.94,236.65 192.55,236.15 190.15,235.67 187.75,235.22 185.35,234.81 182.96,234.42 180.56,234.06 178.16,233.73 175.76,233.43 173.37,233.15 170.97,232.90 168.57,232.67 166.17,232.46 163.78,232.27 161.38,232.10 158.98,231.95 156.58,231.81 154.19,231.68 151.79,231.56 149.39,231.45 146.99,231.36 144.60,231.27 142.20,231.18" fill="#999999" fill-opacity="0.4"/>
<circle cx="142.20" cy="227.00" r="1.7" fill="#9a0f0f"/>
<circle cx="147.00" cy="206.75" r="1.7" fill="#9a0f0f"/>
<circle cx="155.50" cy="226.25" r="1.7" fill="#9a0f0f"/>
<circle cx="158.00" cy="232.50" r="1.7" fill="#9a0f0f"/>
<circle cx="184.75" cy="229.25" r="1.7" fill="#9a0f0f"/>
<circle cx="188.50" cy="237.25" r="1.7" fill="#9a0f0f"/>
<circle cx="189.75" cy="231.50" r="1.7" fill="#9a0f0f"/>
<circle cx="220.50" cy="226.50" r="1.7" fill="#9a0f0f"/>
<circle cx="227.00" cy="238.25" r="1.7" fill="#9a0f0f"/>
<circle cx="235.70" cy="238.00" r="1.7" fill="#9a0f0f"/>
<line x1="142.20" y1="222.25" x2="235.70" y2="237.75" stroke="#3366ff" stroke-width="1.3"/>
<rect x="138" y="190.7" width="102" height="66.40" fill="none" stroke="#d6d6d6" stroke-width="0.7"/>
<rect x="138.5" y="179.9" width="101" height="10.30" fill="#add8e6" stroke="#1a1a1a" stroke-width="1.1"/>
<text x="189.00" y="187.25" font-size="6.3" font-weight="bold" fill="#1a1a1a" text-anchor="middle">93</text>
<line x1="139.05" y1="257.1" x2="139.05" y2="259.1" stroke="#999" stroke-width="0.5"/>
<text transform="translate(139.05,266.10) scale(0.89,1)" font-size="7" fill="#1e1e1e" text-anchor="middle">0</text>
<line x1="163.75" y1="257.1" x2="163.75" y2="259.1" stroke="#999" stroke-width="0.5"/>
<text transform="translate(163.75,266.10) scale(0.89,1)" font-size="7" fill="#1e1e1e" text-anchor="middle">250</text>
<line x1="188.45" y1="257.1" x2="188.45" y2="259.1" stroke="#999" stroke-width="0.5"/>
<text transform="translate(188.45,266.10) scale(0.89,1)" font-size="7" fill="#1e1e1e" text-anchor="middle">500</text>
<line x1="213.15" y1="257.1" x2="213.15" y2="259.1" stroke="#999" stroke-width="0.5"/>
<text transform="translate(213.15,266.10) scale(0.89,1)" font-size="7" fill="#1e1e1e" text-anchor="middle">750</text>
<line x1="237.85" y1="257.1" x2="237.85" y2="259.1" stroke="#999" stroke-width="0.5"/>
<text transform="translate(237.85,266.10) scale(0.89,1)" font-size="7" fill="#1e1e1e" text-anchor="middle">1000</text>
<line x1="235" y1="10.2" x2="236.4" y2="10.2" stroke="#bbb" stroke-width="0.6"/>
<text x="8.6" y="8.3" font-size="10.5" font-weight="bold" fill="#000">(a)</text>
<text x="241.8" y="277.1" font-size="10.3" fill="#222" text-anchor="middle">Factor Loading 1</text>
<text transform="translate(7.0,142.7) rotate(-90) scale(1.1,1)" font-size="9.6" fill="#222" text-anchor="middle">BLUP</text>
</g>
<line x1="520.03" y1="7" x2="520.03" y2="258.5" stroke="#f2f2f2" stroke-width="0.5"/>
<line x1="480" y1="220.40" x2="732" y2="220.40" stroke="#f2f2f2" stroke-width="0.5"/>
<line x1="577.54" y1="7" x2="577.54" y2="258.5" stroke="#f2f2f2" stroke-width="0.5"/>
<line x1="480" y1="162.80" x2="732" y2="162.80" stroke="#f2f2f2" stroke-width="0.5"/>
<line x1="635.05" y1="7" x2="635.05" y2="258.5" stroke="#f2f2f2" stroke-width="0.5"/>
<line x1="480" y1="105.20" x2="732" y2="105.20" stroke="#f2f2f2" stroke-width="0.5"/>
<line x1="692.56" y1="7" x2="692.56" y2="258.5" stroke="#f2f2f2" stroke-width="0.5"/>
<line x1="480" y1="47.60" x2="732" y2="47.60" stroke="#f2f2f2" stroke-width="0.5"/>
<line x1="491.28" y1="7" x2="491.28" y2="258.5" stroke="#e8e8e8" stroke-width="0.7"/>
<line x1="480" y1="249.20" x2="732" y2="249.20" stroke="#e8e8e8" stroke-width="0.7"/>
<line x1="548.79" y1="7" x2="548.79" y2="258.5" stroke="#e8e8e8" stroke-width="0.7"/>
<line x1="480" y1="191.60" x2="732" y2="191.60" stroke="#e8e8e8" stroke-width="0.7"/>
<line x1="606.30" y1="7" x2="606.30" y2="258.5" stroke="#e8e8e8" stroke-width="0.7"/>
<line x1="480" y1="134.00" x2="732" y2="134.00" stroke="#e8e8e8" stroke-width="0.7"/>
<line x1="663.81" y1="7" x2="663.81" y2="258.5" stroke="#e8e8e8" stroke-width="0.7"/>
<line x1="480" y1="76.40" x2="732" y2="76.40" stroke="#e8e8e8" stroke-width="0.7"/>
<line x1="721.32" y1="7" x2="721.32" y2="258.5" stroke="#e8e8e8" stroke-width="0.7"/>
<line x1="480" y1="18.80" x2="732" y2="18.80" stroke="#e8e8e8" stroke-width="0.7"/>
<ellipse cx="592.05" cy="136.1" rx="75.0" ry="50.1" transform="rotate(7.6 592.05 136.1)" fill="#F2A93A" fill-opacity="0.1" stroke="none"/>
<ellipse cx="653.8" cy="129.15" rx="71.5" ry="30.92" transform="rotate(79.6 653.8 129.15)" fill="#2A6ABA" fill-opacity="0.1" stroke="none"/>
<line x1="606.3" y1="7" x2="606.3" y2="258.5" stroke="#333" stroke-width="1.0" stroke-dasharray="3,2.75" stroke-dashoffset="1.75"/>
<line x1="480" y1="134.3" x2="732" y2="134.3" stroke="#333" stroke-width="1.0" stroke-dasharray="3,2.75" stroke-dashoffset="0.35"/>
<path d="M603.70,72.60L605.80,76.20L601.60,76.20ZM586.50,82.20L588.60,85.80L584.40,85.80ZM599.80,85.00L601.90,88.60L597.70,88.60ZM612.70,90.80L614.80,94.40L610.60,94.40ZM613.90,93.30L616.00,96.90L611.80,96.90ZM622.40,96.75L624.50,100.35L620.30,100.35ZM603.50,98.95L605.60,102.55L601.40,102.55ZM594.65,100.40L596.75,104.00L592.55,104.00ZM618.00,100.40L620.10,104.00L615.90,104.00ZM586.20,105.00L588.30,108.60L584.10,108.60ZM604.40,107.10L606.50,110.70L602.30,110.70ZM615.20,107.40L617.30,111.00L613.10,111.00ZM624.50,105.25L626.60,108.85L622.40,108.85ZM560.40,104.75L562.50,108.35L558.30,108.35ZM582.70,114.67L584.80,118.27L580.60,118.27ZM581.60,116.50L583.70,120.10L579.50,120.10ZM599.25,112.70L601.35,116.30L597.15,116.30ZM601.50,112.70L603.60,116.30L599.40,116.30ZM604.20,112.70L606.30,116.30L602.10,116.30ZM597.00,118.73L599.10,122.33L594.90,122.33ZM589.53,119.33L591.63,122.93L587.43,122.93ZM605.60,114.40L607.70,118.00L603.50,118.00ZM521.50,100.80L523.60,104.40L519.40,104.40ZM545.90,93.80L548.00,97.40L543.80,97.40ZM538.60,102.40L540.70,106.00L536.50,106.00ZM529.00,105.80L531.10,109.40L526.90,109.40ZM543.10,109.10L545.20,112.70L541.00,112.70ZM551.00,108.70L553.10,112.30L548.90,112.30ZM542.20,113.70L544.30,117.30L540.10,117.30ZM546.40,114.90L548.50,118.50L544.30,118.50ZM545.60,112.70L547.70,116.30L543.50,116.30ZM526.65,121.15L528.75,124.75L524.55,124.75ZM561.30,121.70L563.40,125.30L559.20,125.30ZM570.40,123.45L572.50,127.05L568.30,127.05ZM577.10,124.75L579.20,128.35L575.00,128.35ZM542.20,126.90L544.30,130.50L540.10,130.50ZM547.20,128.50L549.30,132.10L545.10,132.10ZM568.80,129.00L570.90,132.60L566.70,132.60ZM573.03,129.37L575.13,132.97L570.93,132.97ZM580.55,129.50L582.65,133.10L578.45,133.10ZM583.15,128.55L585.25,132.15L581.05,132.15ZM590.25,122.85L592.35,126.45L588.15,126.45ZM594.30,121.55L596.40,125.15L592.20,125.15ZM596.45,125.40L598.55,129.00L594.35,129.00ZM598.60,127.40L600.70,131.00L596.50,131.00ZM602.70,128.40L604.80,132.00L600.60,132.00ZM564.60,131.20L566.70,134.80L562.50,134.80ZM527.80,133.50L529.90,137.10L525.70,137.10ZM521.50,136.50L523.60,140.10L519.40,140.10ZM524.50,140.10L526.60,143.70L522.40,143.70ZM552.20,135.20L554.30,138.80L550.10,138.80ZM557.20,134.50L559.30,138.10L555.10,138.10ZM568.80,134.00L570.90,137.60L566.70,137.60ZM576.20,132.30L578.30,135.90L574.10,135.90ZM587.60,136.60L589.70,140.20L585.50,140.20ZM591.20,134.80L593.30,138.40L589.10,138.40ZM592.80,133.20L594.90,136.80L590.70,136.80ZM596.20,136.80L598.30,140.40L594.10,140.40ZM601.07,134.53L603.17,138.13L598.97,138.13ZM538.10,142.30L540.20,145.90L536.00,145.90ZM546.40,143.90L548.50,147.50L544.30,147.50ZM548.00,148.10L550.10,151.70L545.90,151.70ZM551.40,151.70L553.50,155.30L549.30,155.30ZM553.80,145.10L555.90,148.70L551.70,148.70ZM559.25,146.45L561.35,150.05L557.15,150.05ZM560.50,140.60L562.60,144.20L558.40,144.20ZM566.80,141.10L568.90,144.70L564.70,144.70ZM571.30,144.40L573.40,148.00L569.20,148.00ZM576.65,139.95L578.75,143.55L574.55,143.55ZM578.80,139.80L580.90,143.40L576.70,143.40ZM597.90,143.05L600.00,146.65L595.80,146.65ZM601.10,143.10L603.20,146.70L599.00,146.70ZM602.80,142.30L604.90,145.90L600.70,145.90ZM574.60,150.10L576.70,153.70L572.50,153.70ZM577.90,153.10L580.00,156.70L575.80,156.70ZM583.70,151.10L585.80,154.70L581.60,154.70ZM588.70,150.10L590.80,153.70L586.60,153.70ZM590.40,151.75L592.50,155.35L588.30,155.35ZM604.05,150.40L606.15,154.00L601.95,154.00ZM572.10,157.70L574.20,161.30L570.00,161.30ZM579.60,159.70L581.70,163.30L577.50,163.30ZM576.20,163.30L578.30,166.90L574.10,166.90ZM593.40,159.65L595.50,163.25L591.30,163.25ZM597.00,155.05L599.10,158.65L594.90,158.65ZM599.50,157.20L601.60,160.80L597.40,160.80ZM601.45,154.45L603.55,158.05L599.35,158.05ZM612.62,161.52L614.72,165.12L610.52,165.12ZM608.90,152.07L611.00,155.67L606.80,155.67ZM500.80,159.70L502.90,163.30L498.70,163.30ZM610.20,136.75L612.30,140.35L608.10,140.35ZM609.13,142.13L611.23,145.73L607.03,145.73ZM609.97,145.60L612.07,149.20L607.87,149.20ZM613.25,146.15L615.35,149.75L611.15,149.75ZM618.33,144.50L620.43,148.10L616.23,148.10ZM611.80,154.10L613.90,157.70L609.70,157.70ZM614.55,156.25L616.65,159.85L612.45,159.85ZM556.30,167.70L558.40,171.30L554.20,171.30ZM578.20,169.40L580.30,173.00L576.10,173.00ZM577.90,179.30L580.00,182.90L575.80,182.90ZM597.00,169.40L599.10,173.00L594.90,173.00ZM598.60,166.75L600.70,170.35L596.50,170.35ZM614.30,144.40L616.40,148.00L612.20,148.00ZM616.80,142.75L618.90,146.35L614.70,146.35ZM620.55,152.80L622.65,156.40L618.45,156.40ZM627.60,124.50L629.70,128.10L625.50,128.10ZM622.60,130.30L624.70,133.90L620.50,133.90ZM631.70,128.70L633.80,132.30L629.60,132.30ZM634.20,132.00L636.30,135.60L632.10,135.60ZM636.70,124.50L638.80,128.10L634.60,128.10ZM628.50,142.60L630.60,146.20L626.40,146.20ZM630.90,142.80L633.00,146.40L628.80,146.40ZM635.55,144.35L637.65,147.95L633.45,147.95ZM639.65,143.85L641.75,147.45L637.55,147.45ZM630.10,146.15L632.20,149.75L628.00,149.75ZM640.00,151.90L642.10,155.50L637.90,155.50ZM633.40,154.20L635.50,157.80L631.30,157.80ZM637.13,159.07L639.23,162.67L635.03,162.67ZM628.20,157.70L630.30,161.30L626.10,161.30ZM612.60,122.90L614.70,126.50L610.50,126.50ZM630.80,164.10L632.90,167.70L628.70,167.70ZM628.40,176.00L630.50,179.60L626.30,179.60ZM597.70,123.70L599.80,127.30L595.60,127.30ZM596.10,129.25L598.20,132.85L594.00,132.85ZM606.10,145.40L608.20,149.00L604.00,149.00ZM597.00,157.70L599.10,161.30L594.90,161.30Z" fill="#EFC000"/>
<path d="M591.9,132.1L594.9,137.6L588.9,137.6Z" fill="#EFC000"/>
<circle cx="622.7" cy="43.8" r="1.6" fill="#0073C2"/>
<circle cx="662.0" cy="60.7" r="1.6" fill="#0073C2"/>
<circle cx="652.2" cy="81.6" r="1.6" fill="#0073C2"/>
<circle cx="629.7" cy="92.3" r="1.6" fill="#0073C2"/>
<circle cx="645.2" cy="100.45" r="1.6" fill="#0073C2"/>
<circle cx="648.5" cy="98.7" r="1.6" fill="#0073C2"/>
<circle cx="655.9" cy="101.2" r="1.6" fill="#0073C2"/>
<circle cx="664.2" cy="99.1" r="1.6" fill="#0073C2"/>
<circle cx="659.6" cy="106.3" r="1.6" fill="#0073C2"/>
<circle cx="666.5" cy="109.2" r="1.6" fill="#0073C2"/>
<circle cx="675.5" cy="109.9" r="1.6" fill="#0073C2"/>
<circle cx="649.7" cy="112.5" r="1.6" fill="#0073C2"/>
<circle cx="628.8" cy="108.6" r="1.6" fill="#0073C2"/>
<circle cx="631.9" cy="109.7" r="1.6" fill="#0073C2"/>
<circle cx="633.6" cy="111.0" r="1.6" fill="#0073C2"/>
<circle cx="635.0" cy="112.2" r="1.6" fill="#0073C2"/>
<circle cx="634.3" cy="117.6" r="1.6" fill="#0073C2"/>
<circle cx="655.4" cy="122.3" r="1.6" fill="#0073C2"/>
<circle cx="660.7" cy="125.0" r="1.6" fill="#0073C2"/>
<circle cx="645.8" cy="127.5" r="1.6" fill="#0073C2"/>
<circle cx="658.7" cy="130.8" r="1.6" fill="#0073C2"/>
<circle cx="645.3" cy="132.4" r="1.6" fill="#0073C2"/>
<circle cx="644.1" cy="136.9" r="1.6" fill="#0073C2"/>
<circle cx="649.1" cy="136.6" r="1.6" fill="#0073C2"/>
<circle cx="654.9" cy="136.3" r="1.6" fill="#0073C2"/>
<circle cx="673.0" cy="140.2" r="1.6" fill="#0073C2"/>
<circle cx="676.4" cy="136.1" r="1.6" fill="#0073C2"/>
<circle cx="654.1" cy="140.7" r="1.6" fill="#0073C2"/>
<circle cx="657.4" cy="139.1" r="1.6" fill="#0073C2"/>
<circle cx="647.5" cy="142.4" r="1.6" fill="#0073C2"/>
<circle cx="637.5" cy="141.6" r="1.6" fill="#0073C2"/>
<circle cx="640.0" cy="140.7" r="1.6" fill="#0073C2"/>
<circle cx="649.1" cy="149.0" r="1.6" fill="#0073C2"/>
<circle cx="645.8" cy="147.4" r="1.6" fill="#0073C2"/>
<circle cx="660.7" cy="145.7" r="1.6" fill="#0073C2"/>
<circle cx="659.1" cy="147.4" r="1.6" fill="#0073C2"/>
<circle cx="655.8" cy="150.2" r="1.6" fill="#0073C2"/>
<circle cx="652.9" cy="158.1" r="1.6" fill="#0073C2"/>
<circle cx="672.3" cy="165.0" r="1.6" fill="#0073C2"/>
<circle cx="655.1" cy="165.0" r="1.6" fill="#0073C2"/>
<circle cx="649.1" cy="169.0" r="1.6" fill="#0073C2"/>
<circle cx="659.1" cy="173.1" r="1.6" fill="#0073C2"/>
<circle cx="669.5" cy="172.3" r="1.6" fill="#0073C2"/>
<circle cx="648.0" cy="177.3" r="1.6" fill="#0073C2"/>
<circle cx="653.6" cy="129.3" r="3.1" fill="#0073C2"/>
<ellipse cx="592.05" cy="136.1" rx="75.0" ry="50.1" transform="rotate(7.6 592.05 136.1)" fill="none" stroke="#EFC000" stroke-width="0.8"/>
<ellipse cx="653.8" cy="129.15" rx="71.5" ry="30.92" transform="rotate(79.6 653.8 129.15)" fill="none" stroke="#0073C2" stroke-width="0.8"/>
<path d="M606.3,134.0L642.4,87.0M641.80,90.55L642.4,87.0L639.12,88.49" fill="none" stroke="#2233EE" stroke-width="0.9"/>
<path d="M606.3,134.0L696.4,115.2M693.63,117.50L696.4,115.2L692.94,114.19" fill="none" stroke="#2233EE" stroke-width="0.9"/>
<path d="M606.3,134.0L615.7,82.6M616.79,86.03L615.7,82.6L613.47,85.42" fill="none" stroke="#2233EE" stroke-width="0.9"/>
<path d="M606.3,134.0L617.6,87.2M618.50,90.69L617.6,87.2L615.21,89.89" fill="none" stroke="#2233EE" stroke-width="0.9"/>
<path d="M606.3,134.0L682.4,157.4M678.87,158.08L682.4,157.4L679.86,154.85" fill="none" stroke="#2233EE" stroke-width="0.9"/>
<path d="M606.3,134.0L680.8,155.6M677.28,156.34L680.8,155.6L678.22,153.09" fill="none" stroke="#2233EE" stroke-width="0.9"/>
<path d="M606.3,134.0L675.8,136.2M672.57,137.79L675.8,136.2L672.68,134.41" fill="none" stroke="#2233EE" stroke-width="0.9"/>
<path d="M606.3,134.0L624.7,60.2M625.57,63.69L624.7,60.2L622.29,62.88" fill="none" stroke="#2233EE" stroke-width="0.9"/>
<path d="M606.3,134.0L689.6,152.3M686.13,153.27L689.6,152.3L686.86,149.97" fill="none" stroke="#2233EE" stroke-width="0.9"/>
<path d="M606.3,134.0L660.2,128.7M657.20,130.69L660.2,128.7L656.87,127.33" fill="none" stroke="#2233EE" stroke-width="0.9"/>
<path d="M606.3,134.0L678.4,145.1M675.00,146.29L678.4,145.1L675.52,142.95" fill="none" stroke="#2233EE" stroke-width="0.9"/>
<path d="M606.3,134.0L641.0,113.4M639.13,116.48L641.0,113.4L637.40,113.57" fill="none" stroke="#2233EE" stroke-width="0.9"/>
<text transform="translate(630.05,57.40) scale(1.0,1)" font-size="7.5" fill="#2233EE" text-anchor="middle">Env7</text>
<text transform="translate(647.90,84.20) scale(1.0,1)" font-size="7.5" fill="#2233EE" text-anchor="middle">Env1</text>
<text transform="translate(610.20,91.10) scale(1.0,1)" font-size="7.5" fill="#2233EE" text-anchor="middle">Env3</text>
<text transform="translate(634.90,122.40) scale(1.0,1)" font-size="7.5" fill="#2233EE" text-anchor="middle">Env11</text>
<text transform="translate(702.10,112.00) scale(1.0,1)" font-size="7.5" fill="#2233EE" text-anchor="middle">Env2</text>
<text transform="translate(669.50,131.80) scale(1.0,1)" font-size="7.5" fill="#2233EE" text-anchor="middle">Env9</text>
<text transform="translate(688.90,142.20) scale(1.0,1)" font-size="7.5" fill="#2233EE" text-anchor="middle">Env6</text>
<text transform="translate(702.10,153.20) scale(1.0,1)" font-size="7.5" fill="#2233EE" text-anchor="middle">Env8</text>
<text transform="translate(669.20,154.20) scale(1.0,1)" font-size="7.5" fill="#2233EE" text-anchor="middle">Env10</text>
<text transform="translate(688.50,166.30) scale(1.0,1)" font-size="7.5" fill="#2233EE" text-anchor="middle">Env5</text>
<line x1="478" y1="249.20" x2="480" y2="249.20" stroke="#555" stroke-width="0.5"/>
<text transform="translate(476.30,251.15) scale(1.0,1)" font-size="5.5" fill="#4d4d4d" text-anchor="end">-6</text>
<line x1="491.28" y1="261.0" x2="491.28" y2="262.8" stroke="#555" stroke-width="0.5"/>
<text transform="translate(491.28,268.50) scale(1.0,1)" font-size="5.5" fill="#4d4d4d" text-anchor="middle">-6</text>
<line x1="478" y1="191.60" x2="480" y2="191.60" stroke="#555" stroke-width="0.5"/>
<text transform="translate(476.30,193.55) scale(1.0,1)" font-size="5.5" fill="#4d4d4d" text-anchor="end">-3</text>
<line x1="548.79" y1="261.0" x2="548.79" y2="262.8" stroke="#555" stroke-width="0.5"/>
<text transform="translate(548.79,268.50) scale(1.0,1)" font-size="5.5" fill="#4d4d4d" text-anchor="middle">-3</text>
<line x1="478" y1="134.00" x2="480" y2="134.00" stroke="#555" stroke-width="0.5"/>
<text transform="translate(476.30,135.95) scale(1.0,1)" font-size="5.5" fill="#4d4d4d" text-anchor="end">0</text>
<line x1="606.30" y1="261.0" x2="606.30" y2="262.8" stroke="#555" stroke-width="0.5"/>
<text transform="translate(606.30,268.50) scale(1.0,1)" font-size="5.5" fill="#4d4d4d" text-anchor="middle">0</text>
<line x1="478" y1="76.40" x2="480" y2="76.40" stroke="#555" stroke-width="0.5"/>
<text transform="translate(476.30,78.35) scale(1.0,1)" font-size="5.5" fill="#4d4d4d" text-anchor="end">3</text>
<line x1="663.81" y1="261.0" x2="663.81" y2="262.8" stroke="#555" stroke-width="0.5"/>
<text transform="translate(663.81,268.50) scale(1.0,1)" font-size="5.5" fill="#4d4d4d" text-anchor="middle">3</text>
<line x1="478" y1="18.80" x2="480" y2="18.80" stroke="#555" stroke-width="0.5"/>
<text transform="translate(476.30,20.75) scale(1.0,1)" font-size="5.5" fill="#4d4d4d" text-anchor="end">6</text>
<line x1="721.32" y1="261.0" x2="721.32" y2="262.8" stroke="#555" stroke-width="0.5"/>
<text transform="translate(721.32,268.50) scale(1.0,1)" font-size="5.5" fill="#4d4d4d" text-anchor="middle">6</text>
<text transform="translate(606.30,277.90) scale(1.0,1)" font-size="7.15" fill="#222" text-anchor="middle">Dim1 (43.8%)</text>
<text transform="translate(467.6,133.75) rotate(-90)" font-size="7" fill="#222" text-anchor="middle">Dim2 (13.8%)</text>
<text x="462.6" y="8.8" font-size="10" font-weight="bold" fill="#000">(b)</text>
<text transform="translate(743.80,123.30) scale(1.0,1)" font-size="6.8" fill="#222" text-anchor="start">Group</text>
<rect x="744.4" y="128.5" width="9.8" height="10.6" fill="#eef5fb" stroke="#0073C2" stroke-width="0.9"/>
<circle cx="749.4" cy="133.9" r="2.7" fill="#0073C2"/>
<rect x="744.4" y="140.2" width="9.8" height="9.8" fill="#fefbee" stroke="#EFC000" stroke-width="0.9"/>
<path d="M749.4,141.6L752.8,147.3L746.0,147.3Z" fill="#EFC000"/>
<text transform="translate(758.70,136.20) scale(1.0,1)" font-size="5.8" fill="#222" text-anchor="start">Selected</text>
<text transform="translate(758.70,147.90) scale(1.0,1)" font-size="5.8" fill="#222" text-anchor="start">Un-select</text>
</svg></body></html>
